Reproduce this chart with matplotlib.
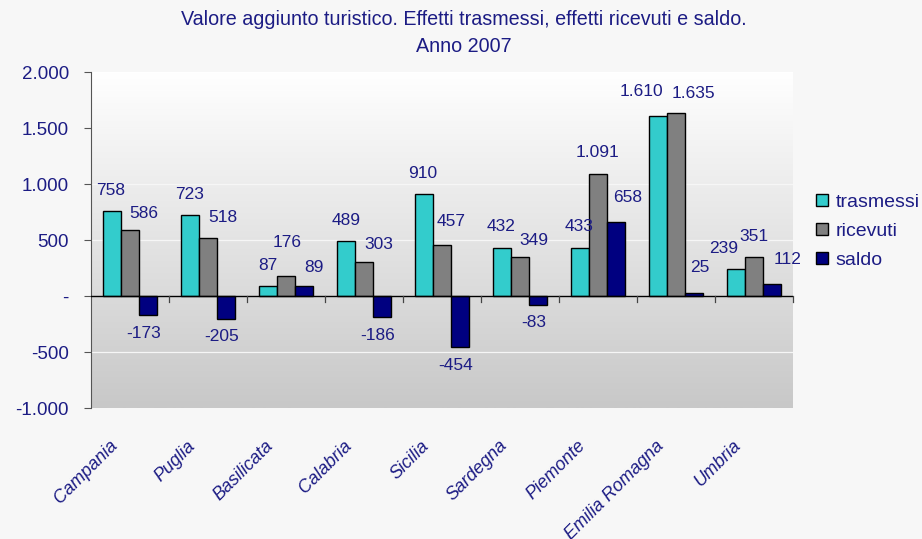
import numpy as np
import matplotlib.pyplot as plt
import matplotlib.transforms as mtransforms
from matplotlib.colors import LinearSegmentedColormap
from matplotlib.patches import Patch

plt.rcParams['font.family'] = ['Liberation Sans', 'DejaVu Sans']

regions = ['Campania', 'Puglia', 'Basilicata', 'Calabria', 'Sicilia',
           'Sardegna', 'Piemonte', 'Emilia Romagna', 'Umbria']
trasmessi = [758, 723, 87, 489, 910, 432, 433, 1610, 239]
ricevuti = [586, 518, 176, 303, 457, 349, 1091, 1635, 351]
saldo = [-173, -205, 89, -186, -454, -83, 658, 25, 112]

series_names = ['trasmessi', 'ricevuti', 'saldo']
colors = ['#33cccc', '#808080', '#000080']
text_col = '#1c1c84'
yticks = [-1000, -500, 0, 500, 1000, 1500, 2000]
ytick_labels = ['-1.000', '-500', '-', '500', '1.000', '1.500', '2.000']

# label nudges in pixels (Excel moved some labels to avoid overlaps)
label_dx = [[-1, 0, 0, 0, -1, -1, -1, -17, -12],
            [14, 15, 1, 15, 9, 14, 0, 18, 0],
            [-4, -4, 10, -4, -4, -4, 12, 6, 16]]
label_gap = [[21, 21, 21, 21, 21, 21, 21, 24, 21],
             [17, 21, 34, 18, 23, 17, 21, 20, 20],
             [18, 17, 19, 19, 19, 17, 25, 26, 24]]


def fmt(v):
    # italian thousand separator
    return f"{v:,}".replace(',', '.')


fig = plt.figure(figsize=(9.22, 5.39), dpi=100, facecolor='#f7f7f7')
ax = fig.add_axes([0.0987, 0.243, 0.7613, 0.623])
ax.set_xlim(0, len(regions))
ax.set_ylim(-1000, 2000)

# gradient background of the plot area
grad = np.linspace(0, 1, 256).reshape(-1, 1)
cmap = LinearSegmentedColormap.from_list('g', ['#c8c8c8', '#ffffff'])
ax.imshow(grad, extent=[0, len(regions), -1000, 2000], aspect='auto',
          cmap=cmap, origin='lower', zorder=0)

for y in [-500, 500, 1000, 1500]:
    ax.axhline(y, color='#f6f6f6', lw=0.9, zorder=1)

x = np.arange(len(regions)) + 0.5
w = 0.23
data = [trasmessi, ricevuti, saldo]
for i, (vals, c) in enumerate(zip(data, colors)):
    xs = x + (i - 1) * w
    ax.bar(xs, vals, width=w, color=c, edgecolor='black', linewidth=1, zorder=3)
    for j, (xi, v) in enumerate(zip(xs, vals)):
        gap = label_gap[i][j] if v >= 0 else -label_gap[i][j]
        ax.annotate(fmt(v), (xi, v), xytext=(label_dx[i][j], gap),
                    textcoords='offset pixels', ha='center', va='center',
                    color=text_col, fontsize=12.5, zorder=4)

ax.axhline(0, color='black', lw=1, zorder=4)
# category separator ticks under the zero line
for b in range(1, len(regions) + 1):
    ax.plot([b, b], [0, -55], color='#444444', lw=0.9, zorder=4, clip_on=False)

for s in ['top', 'right', 'bottom']:
    ax.spines[s].set_visible(False)
ax.spines['left'].set_color('#555555')

ax.set_yticks(yticks)
ax.set_yticklabels(ytick_labels, color=text_col, fontsize=13.5)
ax.tick_params(axis='y', direction='out', length=5, color='#555555', pad=11)

ax.set_xticks(x)
ax.set_xticklabels(regions, rotation=45, ha='right', rotation_mode='anchor',
                   color=text_col, fontsize=13, style='italic')
ax.tick_params(axis='x', length=0, pad=21)
shift = mtransforms.ScaledTranslation(-21 / 100, 0, fig.dpi_scale_trans)
for lab in ax.get_xticklabels():
    lab.set_transform(lab.get_transform() + shift)

fig.text(0.503, 0.964, 'Valore aggiunto turistico. Effetti trasmessi, effetti ricevuti e saldo.',
         ha='center', va='center', color=text_col, fontsize=14.2)
fig.text(0.503, 0.913, 'Anno 2007', ha='center', va='center', color=text_col, fontsize=14.2)

handles = [Patch(facecolor=c, edgecolor='black', label=n) for c, n in zip(colors, series_names)]
leg = fig.legend(handles=handles, loc='center left', bbox_to_anchor=(0.885, 0.571),
                 frameon=False, fontsize=14, handlelength=0.6, handleheight=0.6,
                 handletextpad=0.4, labelspacing=0.62, borderaxespad=0, borderpad=0)
for t in leg.get_texts():
    t.set_color(text_col)

fig.savefig('out.png', dpi=100, facecolor=fig.get_facecolor())
